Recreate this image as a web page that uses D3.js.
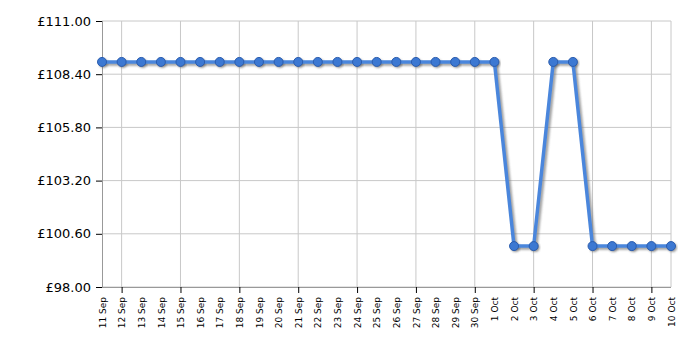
<!DOCTYPE html>
<html>
<head>
<meta charset="utf-8">
<script src="https://cdn.jsdelivr.net/npm/d3@7"></script>
<style>
  body { margin: 0; background: #fff; }
  text { font-family: Verdana, "DejaVu Sans", sans-serif; }
</style>
</head>
<body>
<div id="chart"></div>
<script>
// chart data
var dates = ["11 Sep","12 Sep","13 Sep","14 Sep","15 Sep","16 Sep","17 Sep","18 Sep","19 Sep","20 Sep",
             "21 Sep","22 Sep","23 Sep","24 Sep","25 Sep","26 Sep","27 Sep","28 Sep","29 Sep","30 Sep",
             "1 Oct","2 Oct","3 Oct","4 Oct","5 Oct","6 Oct","7 Oct","8 Oct","9 Oct","10 Oct"];
var prices = [109,109,109,109,109,109,109,109,109,109,
              109,109,109,109,109,109,109,109,109,109,
              109,100,100,109,109,100,100,100,100,100];
var yTicks = [98, 100.6, 103.2, 105.8, 108.4, 111];

var margin = {top: 21, right: 29, bottom: 63, left: 102},
    width = 700 - margin.left - margin.right,
    height = 350 - margin.top - margin.bottom;

var svg = d3.select("#chart")
  .append("svg")
    .attr("width", 700)
    .attr("height", 350)
  .append("g")
    .attr("transform", "translate(" + margin.left + "," + margin.top + ")");

var xScale = d3.scalePoint()
    .domain(dates)
    .range([0, width]);

var yScale = d3.scaleLinear()
    .domain([98, 111])
    .range([height, 0]);

// shadow filter
var defs = svg.append("defs");
var f = defs.append("filter").attr("id", "shadow")
    .attr("x", "-5%").attr("y", "-20%").attr("width", "110%").attr("height", "140%");
f.append("feGaussianBlur").attr("stdDeviation", 1);

// horizontal grid
svg.append("g")
  .selectAll("line")
  .data(yTicks)
  .enter().append("line")
    .attr("x1", 0).attr("x2", width)
    .attr("y1", d => yScale(d)).attr("y2", d => yScale(d))
    .attr("stroke", "#c8c8c8");

// vertical grid every 3 days from 12 Sep
var gridDates = dates.filter((d, i) => i % 3 === 1);
svg.append("g")
  .selectAll("line")
  .data(gridDates)
  .enter().append("line")
    .attr("x1", d => xScale(d)).attr("x2", d => xScale(d))
    .attr("y1", 0).attr("y2", height)
    .attr("stroke", "#c8c8c8");

// right border
svg.append("line")
    .attr("x1", width).attr("x2", width)
    .attr("y1", 0).attr("y2", height)
    .attr("stroke", "#c8c8c8");

// y axis
var yAxis = d3.axisLeft(yScale)
    .tickValues(yTicks)
    .tickSize(6)
    .tickPadding(5)
    .tickFormat(d => "£" + d.toFixed(2));
var gy = svg.append("g").call(yAxis);
gy.select(".domain").attr("stroke", "#999").attr("d", "M0.5,0V" + height);
gy.selectAll(".tick line").attr("stroke", "#000");
gy.selectAll("text").attr("font-size", 13).attr("fill", "#000")
  .style("font-family", "Verdana, 'DejaVu Sans', sans-serif");

// x axis
var xAxis = d3.axisBottom(xScale).tickSize(0).tickPadding(0);
var gx = svg.append("g")
    .attr("transform", "translate(0," + height + ")")
    .call(xAxis);
gx.select(".domain").attr("stroke", "#999").attr("d", "M0," + 0.5 + "H" + width);
gx.selectAll(".tick text")
    .attr("font-size", 9)
    .attr("fill", "#000")
    .style("font-family", "Verdana, 'DejaVu Sans', sans-serif")
    .attr("text-anchor", "end")
    .attr("dy", "0.35em")
    .attr("transform", "translate(0,10) rotate(-90)")
    .attr("y", 0).attr("x", 0);
// tick marks at gridline dates
gx.selectAll(".tick")
  .filter(d => gridDates.indexOf(d) >= 0)
  .append("line")
    .attr("y1", 0).attr("y2", 6)
    .attr("stroke", "#000");

var line = d3.line()
    .x((d, i) => xScale(dates[i]))
    .y(d => yScale(d));

// shadow
svg.append("path")
    .datum(prices)
    .attr("d", line)
    .attr("transform", "translate(2,2)")
    .attr("fill", "none")
    .attr("stroke", "#777")
    .attr("stroke-opacity", 0.7)
    .attr("stroke-width", 3.5)
    .attr("filter", "url(#shadow)");

svg.append("g")
  .selectAll("circle")
  .data(prices)
  .enter().append("circle")
    .attr("cx", (d, i) => xScale(dates[i]) + 1.5)
    .attr("cy", d => yScale(d) + 1.5)
    .attr("r", 4.5)
    .attr("fill", "#555")
    .attr("fill-opacity", 0.6)
    .attr("filter", "url(#shadow)");

// main line
svg.append("path")
    .datum(prices)
    .attr("d", line)
    .attr("fill", "none")
    .attr("stroke", "#4a86dc")
    .attr("stroke-width", 3.5);

svg.append("g")
  .selectAll("circle")
  .data(prices)
  .enter().append("circle")
    .attr("cx", (d, i) => xScale(dates[i]))
    .attr("cy", d => yScale(d))
    .attr("r", 4.5)
    .attr("fill", "#3c78d2")
    .attr("stroke", "#2a5cae")
    .attr("stroke-width", 1);
</script>
</body>
</html>
